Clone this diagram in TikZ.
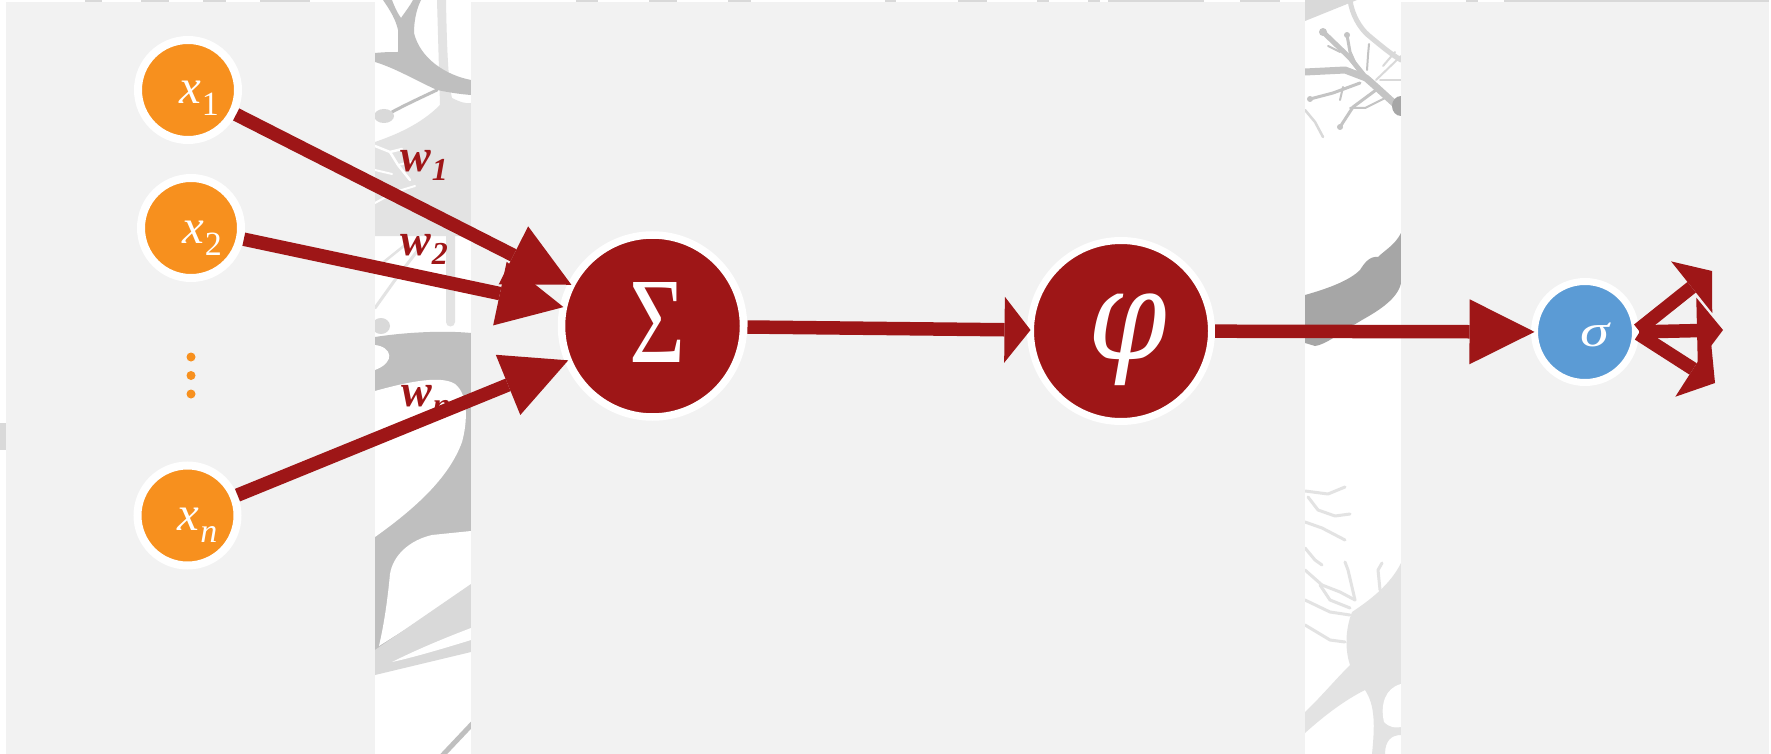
\documentclass[tikz,border=0pt]{standalone}
\usepackage{fontspec}
\usepackage{graphicx}
\setmainfont{Liberation Serif}
\newfontfamily\greekserif{DejaVu Serif}
\usetikzlibrary{arrows.meta,calc}

\definecolor{nred}{HTML}{9E1617}
\definecolor{ordot}{HTML}{F7901E}
\definecolor{nblue}{HTML}{5B9BD5}
\definecolor{panel}{HTML}{F2F2F2}
\definecolor{ngray}{HTML}{BFBFBF}
\definecolor{nlight}{HTML}{D9D9D9}
\definecolor{npale}{HTML}{E3E3E3}
\definecolor{naxon}{HTML}{A6A6A6}
\definecolor{ntree}{HTML}{C4C4C4}

% variable with a lowered upright index
\newcommand\invar[1]{\itshape x\hspace{1pt}\raisebox{-12pt}{\upshape\fontsize{34}{34}\selectfont #1}}
\newcommand\wvar[1]{\bfseries\itshape w\hspace{1pt}\raisebox{-9pt}{\fontsize{32}{32}\selectfont #1}}

\begin{document}
\begin{tikzpicture}[x=1pt,y=-1pt,
  inpnode/.style={circle, fill=ordot, draw=white, line width=8pt, minimum size=100pt, inner sep=0pt, outer sep=0pt},
  bignode/.style={circle, fill=nred, draw=white, line width=7.5pt, minimum size=182pt, inner sep=0pt, outer sep=0pt},
  outnode/.style={circle, fill=nblue, draw=white, line width=7pt, minimum size=101pt, inner sep=0pt, outer sep=0pt},
  dotnode/.style={circle, fill=ordot, minimum size=9pt, inner sep=0pt, outer sep=0pt},
  conn/.style={draw=nred, line width=13.5pt, -{Triangle[length=65pt,width=65pt,line width=0pt]}},
  shorthead/.style={-{Triangle[length=26pt,width=66pt,line width=0pt]}},
  inlabel/.style={inner sep=0pt, text=white, anchor=base west, font=\fontsize{49}{52}\selectfont},
  wlabel/.style={inner sep=0pt, text=nred, anchor=base west, font=\fontsize{46}{48}\selectfont},
  biglabel/.style={inner sep=0pt, text=white, anchor=center},
  thinbranch/.style={line cap=round, line join=round},
]
\useasboundingbox (0,0) rectangle (1771,754);
\fill[white] (0,0) rectangle (1771,754);

% ---------- neuron artwork behind the panels ----------
% small pieces peeking above the panels
\foreach \a/\b in {85/102,141/169,203/226,260/310,576/598,649/677,728/751,885/896,958/987,1037/1049,1088/1100,1108/1204,1240/1280,1466/1478,1504/1769}
  \fill[nlight] (\a,0) rectangle (\b,2.5);
\fill[nlight] (0,423) rectangle (8,450);

% dendrites and soma, left strip
\begin{scope}
\clip (375,0) rectangle (471,754);
\fill[npale] (437,0) -- (446,0) .. controls (447,60) and (449,85) .. (452,98)
  .. controls (460,102) and (466,104) .. (471,103) -- (471,236) -- (375,236) -- (375,142)
  .. controls (395,135) and (420,125) .. (440,105) -- cycle;
\draw[white, line width=2.5pt, thinbranch] (375,146) -- (390,152) -- (402,149);
\draw[white, line width=2.5pt, thinbranch] (390,152) -- (398,165) -- (410,180);
\draw[white, line width=2pt, thinbranch] (375,170) -- (392,174);
\draw[white, line width=2pt, thinbranch] (398,165) -- (415,161);
\draw[white, line width=2pt, thinbranch] (375,203) -- (395,192) -- (415,186);
\fill[npale] (446,230) -- (455,230) -- (455,322) arc[start angle=0, end angle=180, radius=4.5] -- cycle;
\draw[npale, line width=3pt, thinbranch] (375,308) -- (395,280) -- (418,250);
\draw[npale, line width=2.5pt, thinbranch] (380,265) -- (405,245);
% upper fork and crossing branch
\fill[ngray] (383,0) -- (392,0) .. controls (395,8) and (398,14) .. (401,18)
  .. controls (405,12) and (410,6) .. (413,0) -- (421,0) .. controls (416,10) and (414,22) .. (414,33)
  .. controls (420,58) and (445,75) .. (471,80) -- (471,95) .. controls (458,94) and (447,92) .. (437,90)
  .. controls (415,80) and (395,68) .. (375,62) -- (375,53) .. controls (385,52) and (392,52) .. (398,52)
  -- (398,30) .. controls (396,20) and (390,10) .. (383,0) -- cycle;
\draw[ngray, line width=3pt, thinbranch] (437,90) .. controls (420,98) and (405,105) .. (392,112);
\fill[nlight] (384,116) ellipse (10 and 7);
% soma
\fill[ngray] (375,337) .. controls (400,333) and (440,330) .. (471,333) -- (471,650) -- (375,672) -- cycle;
\fill[nlight] (381,326) ellipse (9 and 8);
\fill[white] (375,345) .. controls (392,347) and (396,362) .. (375,370) -- cycle;
\fill[white] (375,391) .. controls (400,384) and (440,374) .. (455,384)
  .. controls (468,394) and (468,420) .. (462,442) .. controls (450,475) and (420,505) .. (375,537) -- cycle;
\fill[white] (390,574) .. controls (393,555) and (410,540) .. (432,535) -- (471,531) -- (471,588)
  -- (379,646) .. controls (385,620) and (388,595) .. (390,574) -- cycle;
\fill[nlight] (375,650) -- (471,584) -- (471,652) -- (375,675) -- cycle;
\fill[white] (392,662) .. controls (420,648) and (450,636) .. (471,628) -- (471,640)
  .. controls (445,648) and (415,657) .. (392,662) -- cycle;
\draw[ngray, line width=5pt] (440,758) -- (474,722);
\end{scope}

% axon and dendrites, right strip
\begin{scope}
\clip (1305,0) rectangle (1401,754);
% pale upper dendrites
\fill[nlight] (1305,0) -- (1357,0) -- (1305,21) -- cycle;
\draw[nlight, line width=5pt, thinbranch] (1350,0) .. controls (1352,15) and (1360,28) .. (1368,35) .. controls (1380,45) and (1392,55) .. (1401,60);
\draw[nlight, line width=2pt, thinbranch] (1376,80) -- (1401,56);
\draw[nlight, line width=2pt, thinbranch] (1380,80) -- (1401,80);
\draw[nlight, line width=2pt, thinbranch] (1383,66) -- (1395,52);
\draw[nlight, line width=2.5pt, thinbranch] (1305,110) -- (1315,122) -- (1323,137);
% main dendritic tree
\draw[ntree, line width=7pt, thinbranch] (1402,110) .. controls (1390,100) and (1380,90) .. (1366,78) -- (1345,70) -- (1305,72);
\draw[ntree, line width=5pt, thinbranch] (1366,78) -- (1350,58) -- (1323,32);
\draw[ntree, line width=3pt, thinbranch] (1358,70) -- (1350,52) -- (1347,35);
\draw[ntree, line width=2pt, thinbranch] (1367,70) -- (1368,55) -- (1369,44);
\draw[ntree, line width=2pt, thinbranch] (1340,52) -- (1328,46);
\draw[ntree, line width=3pt, thinbranch] (1360,83) -- (1333,93) -- (1310,99);
\draw[ntree, line width=3pt, thinbranch] (1376,90) -- (1353,107) -- (1340,127);
\draw[ntree, line width=2pt, thinbranch] (1343,87) -- (1340,100);
\draw[ntree, line width=2pt, thinbranch] (1385,98) -- (1365,108) -- (1350,108);
\fill[ntree] (1323,32) circle (4);
\fill[ntree] (1347,35) circle (3);
\fill[ntree] (1310,99) circle (3);
\fill[ntree] (1340,127) circle (3);
\fill[naxon] (1401,106) ellipse (9 and 10);
% axon
\fill[naxon] (1305,295) .. controls (1330,288) and (1350,280) .. (1360,270)
  .. controls (1365,262) and (1370,256) .. (1378,257) .. controls (1385,250) and (1395,245) .. (1401,233)
  -- (1401,283) .. controls (1398,298) and (1380,310) .. (1362,320)
  .. controls (1340,333) and (1325,345) .. (1315,346) -- (1305,343) -- cycle;
% lower dendritic tree
\fill[npale] (1401,563) .. controls (1390,585) and (1370,600) .. (1352,612)
  .. controls (1345,630) and (1345,650) .. (1350,665) .. controls (1335,680) and (1318,700) .. (1305,712)
  -- (1305,733) .. controls (1325,715) and (1345,700) .. (1365,690)
  .. controls (1375,705) and (1375,725) .. (1372,754) -- (1385,754)
  .. controls (1385,740) and (1392,735) .. (1401,735) -- cycle;
\fill[white] (1401,684) .. controls (1385,688) and (1380,705) .. (1384,722)
  .. controls (1390,728) and (1396,728) .. (1401,727) -- cycle;
\begin{scope}[npale, line width=3pt, thinbranch]
\draw (1305,491) -- (1328,494) -- (1345,487);
\draw (1308,497) -- (1318,510) -- (1335,516) -- (1350,514);
\draw (1305,522) -- (1322,528) -- (1345,540);
\draw (1305,548) -- (1315,560) -- (1322,565);
\draw (1305,570) -- (1322,585) -- (1340,592) -- (1355,600);
\draw (1320,585) -- (1330,600) -- (1350,608);
\draw (1355,600) -- (1348,570) -- (1345,562);
\draw (1305,600) -- (1330,612) -- (1350,615);
\draw (1305,625) -- (1330,640) -- (1345,642);
\draw (1380,590) -- (1378,570) -- (1382,563);
\end{scope}
\end{scope}

% ---------- panels ----------
\fill[panel] (6,2) rectangle (375,754);
\fill[panel] (471,2) rectangle (1305,754);
\fill[panel] (1401,2) rectangle (1769,754);

% ---------- nodes ----------
\node[inpnode] (x1) at (188,90) {};
\node[inpnode] (x2) at (191,228) {};
\node[inpnode] (xn) at (187.5,515.5) {};
\node[dotnode] (d1) at (191,357) {};
\node[dotnode] (d2) at (191,375.5) {};
\node[dotnode] (d3) at (191,394) {};
\node[bignode] (sig) at (652.5,326) {};
\node[bignode, minimum size=181pt, line width=7pt] (phi) at (1121,331) {};
\node[outnode] (o) at (1585,332) {};

% ---------- labels ----------
\node[inlabel] (lx1) at ($(x1)+(-9,14)$) {\invar{1}};
\node[inlabel] (lx2) at ($(x2)+(-9,15)$) {\invar{2}};
\node[inlabel] (lxn) at ($(xn)+(-10,15)$) {\invar{\itshape n}};
\node[biglabel] (lsig) at ($(sig)+(4.5,-4)$) {\resizebox*{56pt}{80pt}{Σ}};
\node[biglabel] (lphi) at ($(phi)+(7,9)$) {\resizebox*{79pt}{92pt}{\greekserif\itshape φ}};
\node[biglabel] (lo) at ($(o)+(10,3)$) {\resizebox*{29pt}{24pt}{\itshape σ}};
\node[wlabel] (w1) at (400,172) {\wvar{1}};
\node[wlabel] (w2) at (400,255) {\wvar{2}};
\node[wlabel] (wn) at (401,406) {\wvar{n}};

% ---------- connections ----------
\coordinate (tU) at (1712,271);
\coordinate (tM) at (1723,330);
\coordinate (tL) at (1715,383);
\draw[conn, shorten <=4pt] (x1) -- (sig);
\draw[conn, shorten <=4pt] (x2) -- (sig);
\draw[conn, shorten <=4pt] (xn) -- (sig);
\draw[conn, shorthead, shorten <=4pt] (sig) -- (phi);
\draw[conn, shorten <=3.5pt] (phi) -- (o);
\draw[conn, shorthead, shorten <=3.5pt] (o.east) -- (tU);
\draw[conn, shorthead, shorten <=3.5pt] (o.east) -- (tM);
\draw[conn, shorthead, shorten <=3.5pt] (o.east) -- (tL);
\end{tikzpicture}
\end{document}
